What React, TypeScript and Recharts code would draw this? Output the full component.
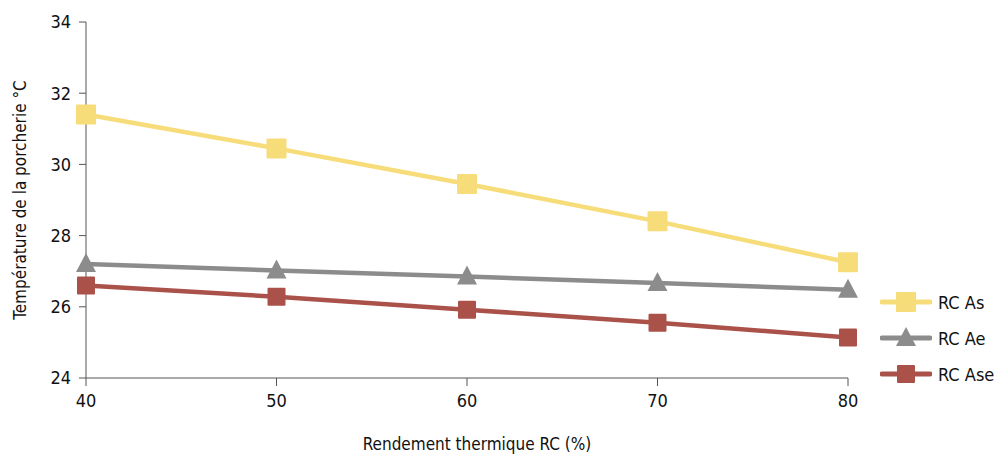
import React from "react";
import {
  LineChart,
  Line,
  XAxis,
  YAxis,
  Legend,
} from "recharts";

const rendement = [40, 50, 60, 70, 80];
const rcAs = [31.4, 30.45, 29.45, 28.4, 27.25];
const rcAe = [27.2, 27.02, 26.85, 26.67, 26.48];
const rcAse = [26.6, 26.28, 25.92, 25.55, 25.14];
const yTicks = [24, 26, 28, 30, 32, 34];

const data = rendement.map((r, i) => ({
  r,
  as: rcAs[i],
  ae: rcAe[i],
  ase: rcAse[i],
}));

const FONT = "'Liberation Sans Narrow', 'DejaVu Sans Condensed', 'Open Sans', sans-serif";
const AXIS = "#555";

const series = [
  { key: "as", name: "RC As", color: "#F7DC7A", shape: "square", size: 20 },
  { key: "ae", name: "RC Ae", color: "#8C8C8C", shape: "triangle", size: 20 },
  { key: "ase", name: "RC Ase", color: "#AA524A", shape: "square", size: 18 },
];

const Marker = ({ cx, cy, shape, size, color }: any) => {
  if (cx == null || cy == null) return null;
  if (shape === "triangle") {
    const h = size * 0.9;
    return (
      <polygon
        points={`${cx},${cy - h / 2 - 2} ${cx - size / 2},${cy + h / 2 - 1} ${cx + size / 2},${cy + h / 2 - 1}`}
        fill={color}
      />
    );
  }
  return <rect x={cx - size / 2} y={cy - size / 2} width={size} height={size} fill={color} rx={1} />;
};

const LegendContent = () => (
  <div style={{ fontFamily: FONT, fontSize: 18, color: "#111" }}>
    {series.map((s) => (
      <div key={s.key} style={{ display: "flex", alignItems: "center", height: 36 }}>
        <svg width={52} height={24}>
          <line x1={2} y1={12} x2={50} y2={12} stroke={s.color} strokeWidth={5} strokeLinecap="round" />
          <Marker cx={26} cy={12} shape={s.shape} size={s.size} color={s.color} />
        </svg>
        <span style={{ marginLeft: 6 }}>{s.name}</span>
      </div>
    ))}
  </div>
);

export default function App() {
  return (
    <div>
      <style>{`body{margin:0}`}</style>
      <LineChart
        width={995}
        height={454}
        data={data}
        margin={{ top: 22, right: 32, left: 0, bottom: 46 }}
      >
        <XAxis
          dataKey="r"
          type="number"
          domain={[40, 80]}
          ticks={rendement}
          stroke={AXIS}
          tickLine={{ stroke: AXIS }}
          tickSize={8}
          tick={{ fill: "#111", fontSize: 18, fontFamily: FONT, dy: 6 }}
          label={{
            value: "Rendement thermique RC (%)",
            position: "insideBottom",
            offset: -42,
            dx: 10,
            style: { fill: "#111", fontSize: 17, fontFamily: FONT },
          }}
        />
        <YAxis
          type="number"
          domain={[24, 34]}
          ticks={yTicks}
          width={86}
          stroke={AXIS}
          tickSize={7}
          tick={{ fill: "#111", fontSize: 18, fontFamily: FONT, dx: -6 }}
          label={{
            value: "Température de la porcherie °C",
            angle: -90,
            position: "insideLeft",
            offset: 20,
            style: { textAnchor: "middle", fill: "#111", fontSize: 17, fontFamily: FONT },
          }}
        />
        <Legend
          layout="vertical"
          align="right"
          verticalAlign="top"
          wrapperStyle={{ top: 284, left: 880, width: 115 }}
          content={<LegendContent />}
        />
        {series.map((s) => (
          <Line
            key={s.key}
            dataKey={s.key}
            name={s.name}
            stroke={s.color}
            strokeWidth={4.5}
            isAnimationActive={false}
            dot={(p: any) => (
              <Marker key={`${s.key}-${p.index}`} cx={p.cx} cy={p.cy} shape={s.shape} size={s.size} color={s.color} />
            )}
            activeDot={false}
          />
        ))}
      </LineChart>
    </div>
  );
}
